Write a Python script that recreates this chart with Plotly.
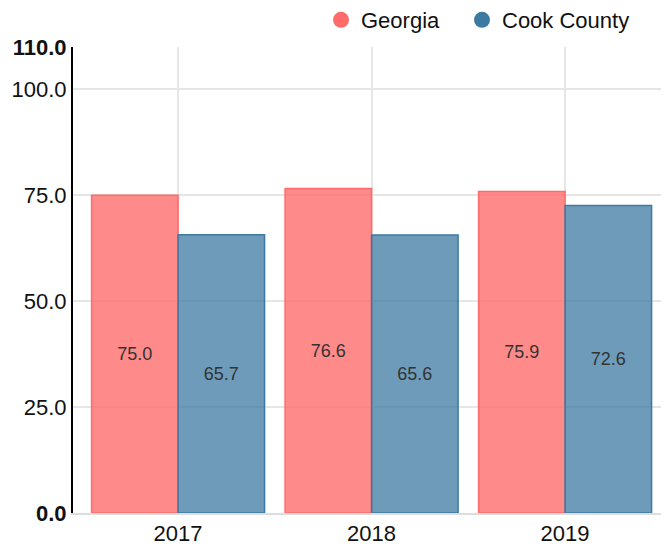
import plotly.graph_objects as go

years = ["2017", "2018", "2019"]
georgia = [75.0, 76.6, 75.9]
cook = [65.7, 65.6, 72.6]
tick_vals = [0, 25, 50, 75, 100, 110]
tick_text = ["<b>0.0</b>", "25.0", "50.0", "75.0", "100.0", "<b>110.0</b>"]

FONT = "Liberation Sans, Arial, sans-serif"
W, H = 661, 542  # page body has an 8px default margin

fig = go.Figure()
fig.add_trace(go.Bar(
    x=years, y=georgia, name="Georgia", showlegend=False,
    marker=dict(color="rgba(255,107,107,0.79)", line=dict(color="#ff6b6b", width=1.5)),
    text=[f"{v:.1f}" for v in georgia], textposition="inside", insidetextanchor="middle",
    textangle=0, textfont=dict(color="#333333", size=18, family=FONT),
))
fig.add_trace(go.Bar(
    x=years, y=cook, name="Cook County", showlegend=False,
    marker=dict(color="rgba(61,122,161,0.75)", line=dict(color="#3d7aa1", width=1.5)),
    text=[f"{v:.1f}" for v in cook], textposition="inside", insidetextanchor="middle",
    textangle=0, textfont=dict(color="#333333", size=18, family=FONT),
))
# legend entries with circle markers
fig.add_trace(go.Scatter(x=[None], y=[None], mode="markers", name="Georgia", legend="legend",
                         marker=dict(color="#ff6b6b", size=22, symbol="circle")))
fig.add_trace(go.Scatter(x=[None], y=[None], mode="markers", name="Cook County", legend="legend2",
                         marker=dict(color="#3d7aa1", size=22, symbol="circle")))

legend_common = dict(orientation="h", xref="container", yref="container",
                     xanchor="left", y=1 - 12 / H, yanchor="middle",
                     font=dict(size=22, family=FONT, color="#111111"), itemsizing="trace",
                     itemwidth=30, bgcolor="rgba(0,0,0,0)")

fig.update_layout(
    width=W, height=H,
    margin=dict(l=65, r=0, t=39, b=37, autoexpand=False),
    paper_bgcolor="white", plot_bgcolor="white",
    font=dict(family=FONT, size=22, color="#111111"),
    barmode="group", bargap=0.106, bargroupgap=0,
    legend=dict(x=313 / W, **legend_common),
    legend2=dict(x=454 / W, **legend_common),
    xaxis=dict(type="category", range=[-0.543, 2.537], showgrid=True, gridcolor="#e6e6e6",
               gridwidth=2, showline=True, linecolor="#dddddd", linewidth=2, automargin=False,
               ticks="", tickfont=dict(size=22, family=FONT, color="#111111"), zeroline=False),
    yaxis=dict(range=[0, 110], tickvals=tick_vals, ticktext=tick_text, showgrid=True,
               gridcolor="#e6e6e6", gridwidth=2, showline=True, linecolor="black", linewidth=2,
               automargin=False, ticklabelstandoff=0,
               ticks="", tickfont=dict(size=22, family=FONT, color="#111111"), zeroline=False),
)
fig.write_html("out.html")
